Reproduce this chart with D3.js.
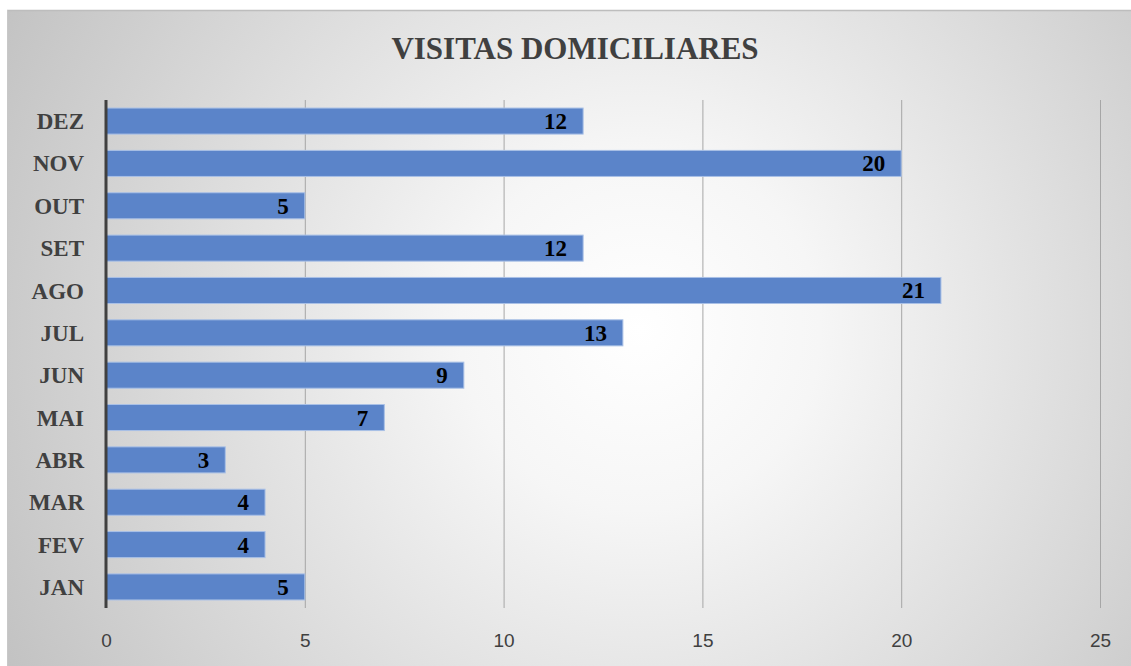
<!DOCTYPE html>
<html><head><meta charset="utf-8">
<script src="https://cdn.jsdelivr.net/npm/d3@7"></script>
<style>html,body{margin:0;padding:0;background:#fff;overflow:hidden}</style>
</head><body>
<svg id="c" width="1131" height="666"></svg>
<script>
const categories = ["JAN","FEV","MAR","ABR","MAI","JUN","JUL","AGO","SET","OUT","NOV","DEZ"];
const values = [5,4,4,3,7,9,13,21,12,5,20,12];
const xTicks = [0,5,10,15,20,25];
const title = "VISITAS DOMICILIARES";

(function(){
const svg = d3.select("#c");
const W = 1131, H = 666;
const defs = svg.append("defs");
const g = defs.append("radialGradient").attr("id","bg")
  .attr("gradientUnits","userSpaceOnUse")
  .attr("cx",640).attr("cy",330).attr("r",720);
g.append("stop").attr("offset","0%").attr("stop-color","#ffffff");
g.append("stop").attr("offset","25%").attr("stop-color","#f6f6f6");
g.append("stop").attr("offset","100%").attr("stop-color","#c2c2c2");

svg.append("rect").attr("x",7).attr("y",10).attr("width",W-7).attr("height",H-10).attr("fill","url(#bg)");
svg.append("line").attr("x1",7).attr("x2",W).attr("y1",10.5).attr("y2",10.5).attr("stroke","#bdbdbd").attr("stroke-width",1.5);
svg.append("line").attr("x1",7.5).attr("x2",7.5).attr("y1",10).attr("y2",H).attr("stroke","#c8c8c8").attr("stroke-width",1);

const serif = "'Liberation Serif','DejaVu Serif',serif";
const pTop = 100, pBottom = 608, pLeft = 106, pRight = 1100;
const x = d3.scaleLinear().domain([0,25]).range([pLeft,pRight]);
const y = d3.scaleBand().domain(categories.slice().reverse()).range([pTop,pBottom]).paddingInner(0.385).paddingOuter(0.19);

svg.append("text").attr("x",575).attr("y",59).attr("text-anchor","middle")
  .attr("font-family",serif).attr("font-weight","bold").attr("font-size",31)
  .attr("fill","#404040").text(title);

// gridlines
svg.append("g").selectAll("line").data(xTicks.filter(d=>d>0)).join("line")
  .attr("x1",d=>x(d)+0.5).attr("x2",d=>x(d)+0.5).attr("y1",pTop).attr("y2",pBottom)
  .attr("stroke","#a6a6a6").attr("stroke-width",1);

// x axis labels
const xa = svg.append("g").attr("transform",`translate(0,${pBottom})`)
  .call(d3.axisBottom(x).tickValues(xTicks).tickSize(0).tickPadding(26));
xa.select(".domain").remove();
xa.selectAll("text").attr("font-family","'Liberation Sans','Open Sans',sans-serif")
  .attr("font-size",19).attr("fill","#404040");

// bars
svg.append("g").selectAll("rect").data(categories).join("rect")
  .attr("x",x(0)).attr("y",d=>y(d))
  .attr("width",(d,i)=>x(values[i])-x(0)).attr("height",y.bandwidth())
  .attr("fill","#5b84c9").attr("stroke","#a9c0e6").attr("stroke-width",1);

// bar labels
svg.append("g").selectAll("text").data(categories).join("text")
  .attr("x",(d,i)=>x(values[i])-16).attr("y",d=>y(d)+y.bandwidth()/2+8)
  .attr("text-anchor","end").attr("font-family",serif).attr("font-weight","bold")
  .attr("font-size",23).attr("fill","#000").text((d,i)=>values[i]);

// y axis
const ya = svg.append("g").attr("transform",`translate(${pLeft},0)`)
  .call(d3.axisLeft(y).tickSize(0).tickPadding(22));
ya.select(".domain").remove();
ya.selectAll("text").attr("font-family",serif).attr("font-weight","bold")
  .attr("font-size",23).attr("fill","#404040").attr("dy","0.35em");
svg.append("line").attr("x1",pLeft).attr("x2",pLeft).attr("y1",pTop).attr("y2",pBottom)
  .attr("stroke","#404040").attr("stroke-width",3);
})();
</script>
</body></html>
